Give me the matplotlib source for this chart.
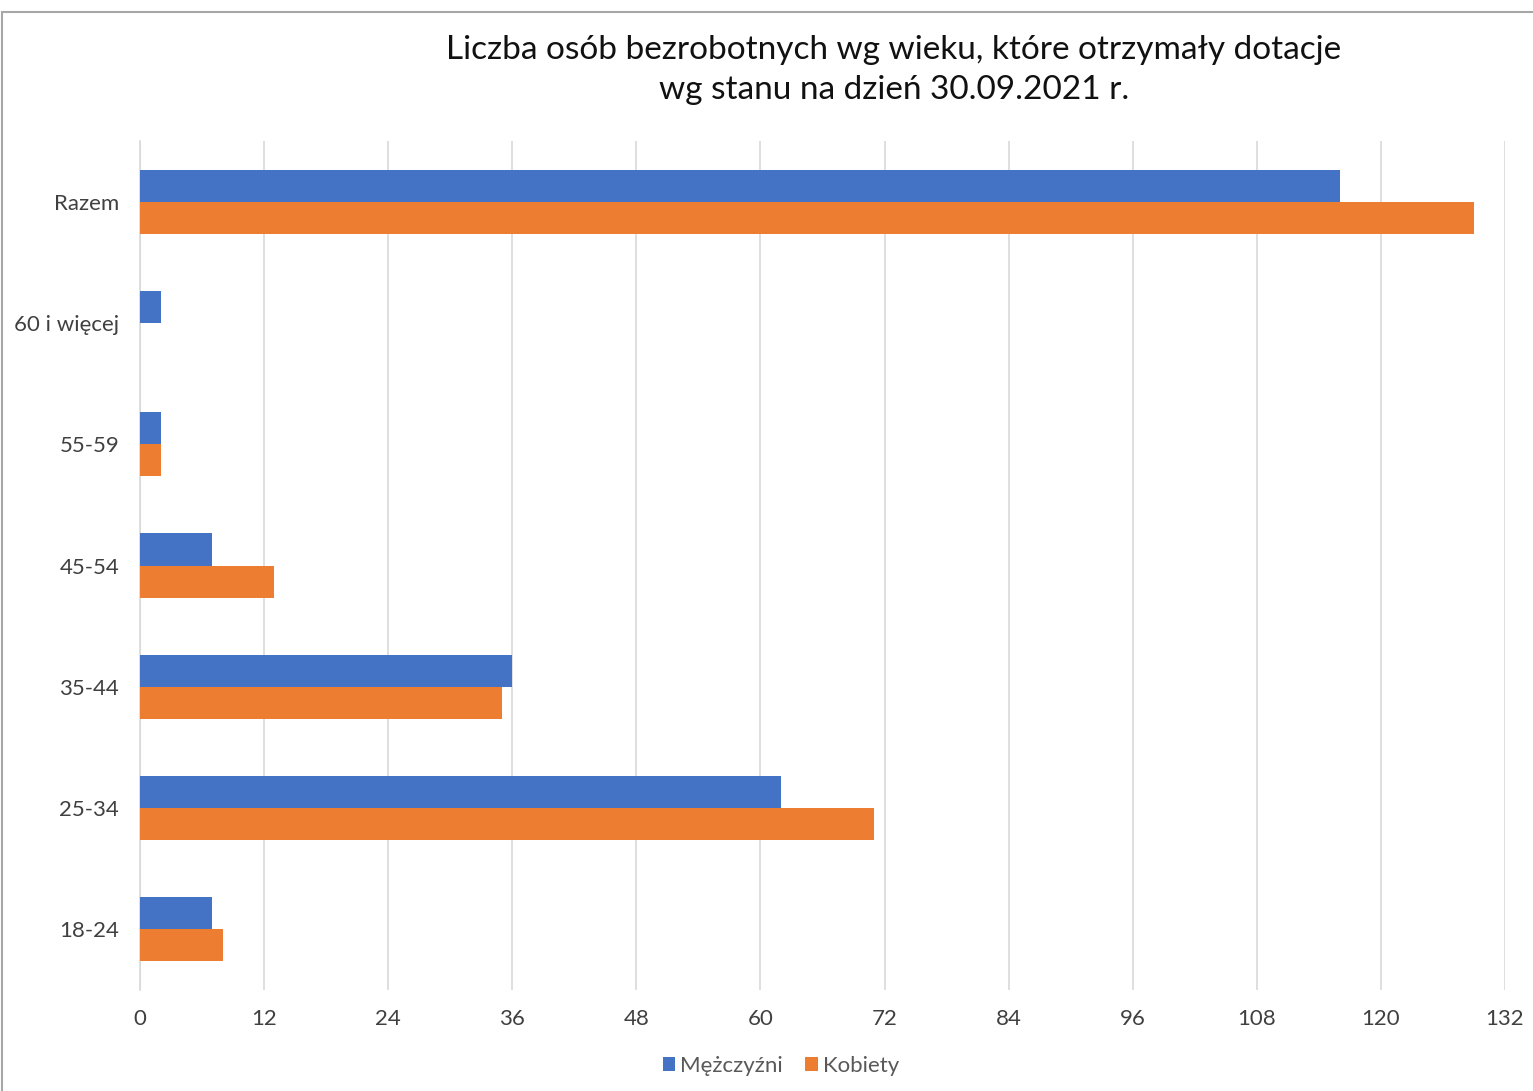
import matplotlib.pyplot as plt
from matplotlib.patches import Rectangle

plt.rcParams['font.family'] = ['Lato', 'DejaVu Sans']

# dane
kategorie = ['18-24', '25-34', '35-44', '45-54', '55-59', '60 i więcej', 'Razem']
mezczyzni = [7, 62, 36, 7, 2, 2, 116]
kobiety = [8, 71, 35, 13, 2, 0, 129]
ticki = [0, 12, 24, 36, 48, 60, 72, 84, 96, 108, 120, 132]

W, H = 1533, 1091
fig = plt.figure(figsize=(W / 100, H / 100), dpi=100)
ax = fig.add_axes([140 / W, 1 - 990 / H, (1505 - 140) / W, (990 - 141) / H])

y = range(len(kategorie))
h = 0.264
ax.barh([i + h / 2 for i in y], mezczyzni, height=h, color='#4472C4', label='Mężczyźni', zorder=3)
ax.barh([i - h / 2 for i in y], kobiety, height=h, color='#ED7D31', label='Kobiety', zorder=3)

ax.set_xlim(0, 132)
ax.set_ylim(-0.5, len(kategorie) - 0.5)
ax.set_xticks(ticki)
ax.set_yticks(list(y))
ax.set_yticklabels(kategorie)
ax.tick_params(axis='both', length=0, labelsize=16, colors='#404040')
ax.tick_params(axis='y', pad=15)
ax.tick_params(axis='x', pad=14)
ax.grid(axis='x', color='#D9D9D9', linewidth=1.2, zorder=0)
for s in ['top', 'right', 'bottom']:
    ax.spines[s].set_visible(False)
ax.spines['left'].set_color('#D9D9D9')
ax.spines['left'].set_linewidth(1.2)

fig.text(894 / W, 1 - 70 / H, 'Liczba osób bezrobotnych wg wieku, które otrzymały dotacje\nwg stanu na dzień 30.09.2021 r.',
         ha='center', va='center', fontsize=24, color='#111111', linespacing=1.45)

leg = fig.legend(loc='center', bbox_to_anchor=(781 / W, 1 - 1066 / H), ncol=2, frameon=False,
                 fontsize=16, handlelength=0.55, handleheight=0.55, handletextpad=0.25, columnspacing=1.0)
for t in leg.get_texts():
    t.set_color('#595959')

fig.patches.append(Rectangle((2 / W, -0.1), 1.2, 1.1 - 12 / H, transform=fig.transFigure,
                             fill=False, edgecolor='#A6A6A6', linewidth=1.5))

fig.savefig('out.png', dpi=100)
